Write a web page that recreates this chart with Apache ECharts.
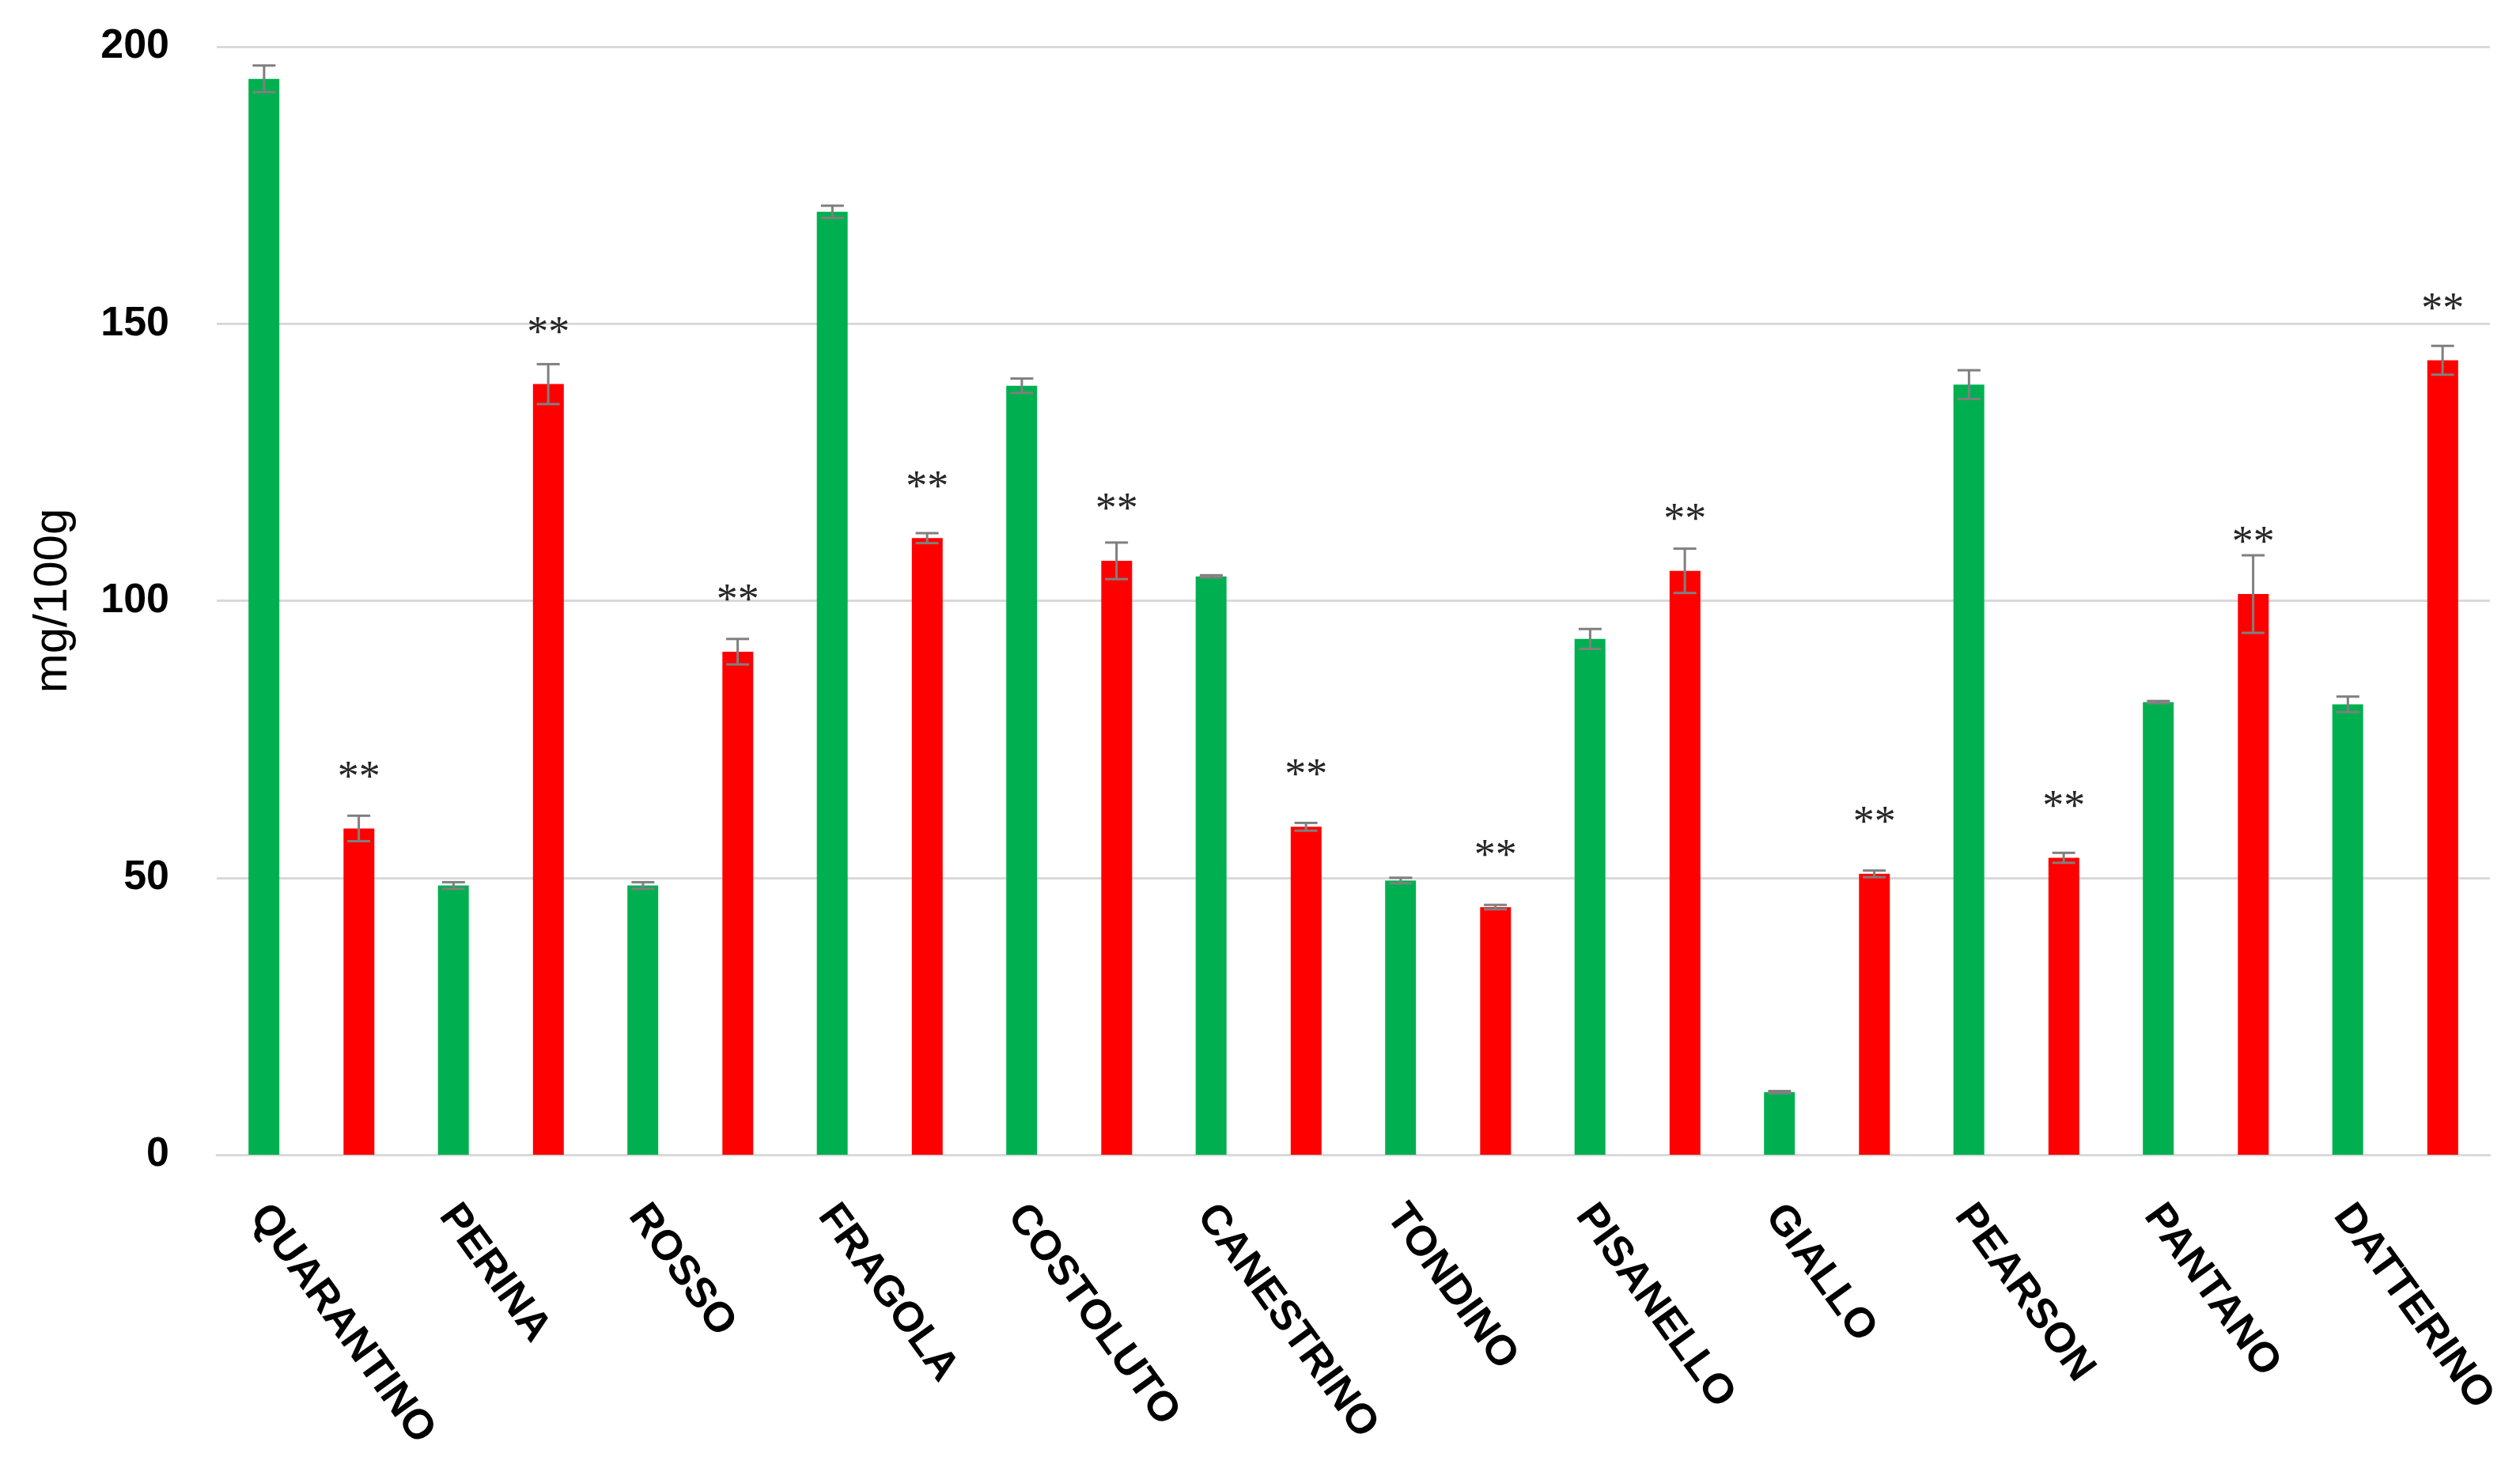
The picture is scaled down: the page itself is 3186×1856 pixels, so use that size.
<!DOCTYPE html>
<html>
<head>
<meta charset="utf-8">
<script src="https://cdn.jsdelivr.net/npm/echarts@6/dist/echarts.min.js"></script>
<style>
html,body{margin:0;padding:0;background:#fff;}
#chart{width:3186px;height:1856px;}
</style>
</head>
<body>
<div id="chart"></div>
<script>
const categories = ['QUARANTINO','PERINA','ROSSO','FRAGOLA','COSTOLUTO','CANESTRINO','TONDINO','PISANELLO','GIALLO','PEARSON','PANTANO','DATTERINO'];
const greenValues = [194.2, 48.6, 48.6, 170.2, 138.8, 104.4, 49.5, 93.1, 11.3, 139.0, 81.7, 81.3];
const greenErrors = [2.4, 0.6, 0.6, 1.1, 1.3, 0.2, 0.5, 1.8, 0.2, 2.6, 0.2, 1.4];
const redValues = [58.9, 139.1, 90.8, 111.3, 107.2, 59.2, 44.7, 105.4, 50.7, 53.6, 101.2, 143.4];
const redErrors = [2.3, 3.6, 2.3, 0.9, 3.3, 0.7, 0.4, 4.0, 0.6, 0.9, 7.0, 2.6];
const redMarks = ['**','**','**','**','**','**','**','**','**','**','**','**'];
const yTicks = [0, 50, 100, 150, 200];
const yTitle = 'mg/100g';

const chart = echarts.init(document.getElementById('chart'), null, {renderer: 'canvas'});

function errRenderer(sign) {
  return function (params, api) {
    const i = api.value(0), v = api.value(1), e = api.value(2);
    const top = api.coord([i, v + e]);
    const bot = api.coord([i, v - e]);
    const w = api.size([1, 0])[0];
    const x = top[0] + sign * w / 4;
    const half = 14.5;
    const st = {stroke: '#7f7f7f', lineWidth: 3};
    return {
      type: 'group',
      children: [
        {type: 'line', shape: {x1: x, y1: top[1], x2: x, y2: bot[1]}, style: st},
        {type: 'line', shape: {x1: x - half, y1: top[1], x2: x + half, y2: top[1]}, style: st},
        {type: 'line', shape: {x1: x - half, y1: bot[1], x2: x + half, y2: bot[1]}, style: st}
      ]
    };
  };
}

const option = {
  backgroundColor: '#ffffff',
  animation: false,
  grid: {left: 274, right: 38, top: 59, bottom: 396, containLabel: false, outerBoundsMode: 'none'},
  xAxis: {
    type: 'category',
    data: categories,
    axisLine: {show: true, lineStyle: {color: '#d9d9d9', width: 3}},
    axisTick: {show: false},
    splitLine: {show: false},
    axisLabel: {
      interval: 0,
      rotate: -54,
      margin: 20,
      verticalAlign: 'top',
      lineHeight: 166,
      fontFamily: 'Liberation Sans',
      fontSize: 53,
      fontWeight: 'bold',
      color: '#000000'
    }
  },
  yAxis: {
    type: 'value',
    min: yTicks[0],
    max: yTicks[yTicks.length - 1],
    interval: 50,
    name: yTitle,
    nameLocation: 'middle',
    nameGap: 177,
    nameTextStyle: {fontFamily: 'Liberation Sans', fontSize: 60, color: '#000000'},
    axisLine: {show: false},
    axisTick: {show: false},
    splitLine: {show: true, lineStyle: {color: '#d9d9d9', width: 3}},
    axisLabel: {
      margin: 60,
      fontFamily: 'Liberation Sans',
      fontSize: 52,
      fontWeight: 'bold',
      color: '#000000'
    }
  },
  series: [
    {
      name: 'green',
      type: 'bar',
      data: greenValues,
      barWidth: 39,
      barGap: '208%',
      itemStyle: {color: '#00b050'},
      z: 2
    },
    {
      name: 'red',
      type: 'bar',
      data: redValues,
      barWidth: 39,
      barGap: '208%',
      itemStyle: {color: '#ff0000'},
      label: {
        show: true,
        position: 'top',
        distance: 36,
        formatter: function (p) { return redMarks[p.dataIndex]; },
        fontFamily: 'Liberation Serif',
        fontSize: 54,
        color: '#262626'
      },
      z: 2
    },
    {
      name: 'greenErr',
      type: 'custom',
      renderItem: errRenderer(-1),
      data: greenValues.map((v, i) => [i, v, greenErrors[i]]),
      encode: {x: 0, y: 1},
      z: 5,
      silent: true
    },
    {
      name: 'redErr',
      type: 'custom',
      renderItem: errRenderer(1),
      data: redValues.map((v, i) => [i, v, redErrors[i]]),
      encode: {x: 0, y: 1},
      z: 5,
      silent: true
    }
  ]
};
chart.setOption(option);
</script>
</body>
</html>
